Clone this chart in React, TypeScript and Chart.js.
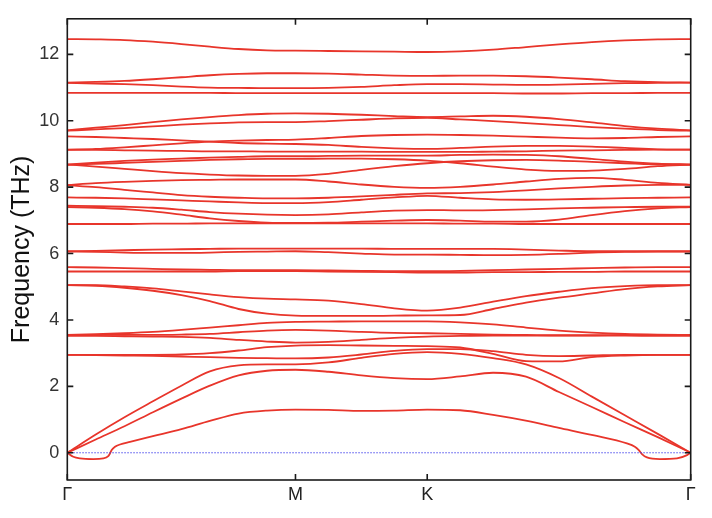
import { useEffect, useRef } from "react";
import { Chart, registerables } from "chart.js";

Chart.register(...registerables);

// k-path coordinate (Γ=0, M=0.866, K=1.366, Γ=2.366)
const kPath = [0, 0.108, 0.217, 0.325, 0.433, 0.541, 0.65, 0.758, 0.866, 0.991, 1.116, 1.241, 1.366, 1.491, 1.616, 1.741, 1.866, 1.991, 2.116, 2.241, 2.366];
const kTickPositions = [0, 0.866, 1.366, 2.366];
const kTickLabels = ["Γ", "M", "K", "Γ"];
const freqTicks = [0, 2, 4, 6, 8, 10, 12];

// optical / upper bands (THz), sampled on kPath
const band12_4 = [12.46, 12.45, 12.43, 12.38, 12.31, 12.23, 12.16, 12.12, 12.11, 12.1, 12.09, 12.08, 12.07, 12.09, 12.14, 12.22, 12.3, 12.37, 12.42, 12.45, 12.46];
const band11_4 = [11.15, 11.17, 11.2, 11.25, 11.31, 11.37, 11.41, 11.43, 11.43, 11.42, 11.39, 11.36, 11.35, 11.36, 11.36, 11.34, 11.3, 11.25, 11.19, 11.16, 11.15];
const band11_0 = [11.14, 11.12, 11.1, 11.07, 11.03, 11.0, 10.99, 10.98, 10.98, 10.99, 11.02, 11.07, 11.1, 11.1, 11.09, 11.08, 11.09, 11.11, 11.13, 11.14, 11.15];
const band10_8 = [10.84, 10.84, 10.84, 10.84, 10.84, 10.84, 10.83, 10.83, 10.83, 10.83, 10.83, 10.83, 10.83, 10.83, 10.83, 10.82, 10.82, 10.83, 10.83, 10.84, 10.84];
const band10_2 = [9.71, 9.79, 9.87, 9.96, 10.04, 10.11, 10.17, 10.21, 10.22, 10.21, 10.18, 10.14, 10.11, 10.13, 10.15, 10.12, 10.05, 9.95, 9.84, 9.76, 9.71];
const band10_0 = [9.7, 9.74, 9.78, 9.83, 9.88, 9.92, 9.95, 9.96, 9.96, 9.99, 10.03, 10.07, 10.09, 10.04, 9.99, 9.93, 9.87, 9.81, 9.76, 9.72, 9.7];
const band9_6 = [9.13, 9.15, 9.2, 9.26, 9.32, 9.37, 9.4, 9.42, 9.43, 9.48, 9.54, 9.57, 9.58, 9.57, 9.55, 9.52, 9.49, 9.47, 9.48, 9.51, 9.53];
const band9_3 = [9.53, 9.51, 9.48, 9.45, 9.41, 9.37, 9.33, 9.31, 9.3, 9.27, 9.21, 9.17, 9.15, 9.18, 9.22, 9.24, 9.24, 9.22, 9.18, 9.14, 9.13];
const band9_1 = [9.12, 9.12, 9.11, 9.1, 9.09, 9.08, 9.08, 9.07, 9.07, 9.07, 9.07, 9.06, 9.06, 9.06, 9.07, 9.08, 9.1, 9.11, 9.12, 9.13, 9.13];
const band8_9 = [8.68, 8.74, 8.79, 8.83, 8.86, 8.89, 8.91, 8.93, 8.93, 8.94, 8.95, 8.95, 8.95, 8.97, 8.98, 8.97, 8.93, 8.85, 8.77, 8.71, 8.68];
const band8_8 = [8.68, 8.7, 8.73, 8.76, 8.79, 8.82, 8.84, 8.85, 8.85, 8.86, 8.86, 8.84, 8.8, 8.72, 8.62, 8.53, 8.49, 8.5, 8.55, 8.63, 8.68];
const band8_4 = [8.68, 8.62, 8.55, 8.48, 8.42, 8.38, 8.35, 8.34, 8.34, 8.4, 8.52, 8.63, 8.72, 8.78, 8.81, 8.82, 8.8, 8.76, 8.72, 8.69, 8.68];
const band8_2 = [8.06, 8.12, 8.16, 8.19, 8.21, 8.22, 8.23, 8.23, 8.23, 8.17, 8.08, 8.01, 7.98, 8.01, 8.08, 8.17, 8.25, 8.28, 8.22, 8.13, 8.07];
const band7_8 = [8.06, 8.0, 7.92, 7.84, 7.76, 7.71, 7.68, 7.66, 7.66, 7.68, 7.72, 7.77, 7.81, 7.82, 7.85, 7.9, 7.96, 8.01, 8.05, 8.07, 8.07];
const band7_6 = [7.69, 7.68, 7.66, 7.63, 7.6, 7.57, 7.54, 7.52, 7.52, 7.55, 7.62, 7.69, 7.74, 7.68, 7.63, 7.62, 7.63, 7.65, 7.67, 7.68, 7.69];
const band7_3 = [7.44, 7.43, 7.41, 7.38, 7.32, 7.25, 7.2, 7.17, 7.16, 7.18, 7.24, 7.29, 7.31, 7.3, 7.31, 7.33, 7.36, 7.38, 7.4, 7.41, 7.41];
const band7_0 = [7.4, 7.38, 7.34, 7.27, 7.17, 7.06, 6.98, 6.93, 6.92, 6.93, 6.96, 6.99, 7.01, 6.99, 6.96, 6.96, 7.02, 7.16, 7.28, 7.36, 7.4];
const band6_9 = [6.89, 6.89, 6.89, 6.9, 6.9, 6.91, 6.91, 6.91, 6.91, 6.91, 6.91, 6.91, 6.91, 6.9, 6.9, 6.89, 6.89, 6.89, 6.89, 6.89, 6.89];
const band6_1 = [6.07, 6.08, 6.1, 6.12, 6.13, 6.14, 6.15, 6.15, 6.15, 6.15, 6.15, 6.14, 6.14, 6.14, 6.14, 6.12, 6.09, 6.07, 6.07, 6.07, 6.07];
const band6_0 = [6.06, 6.05, 6.03, 6.02, 6.02, 6.03, 6.05, 6.06, 6.07, 6.04, 6.0, 5.97, 5.97, 5.96, 5.95, 5.96, 5.99, 6.03, 6.05, 6.06, 6.06];
const band5_6 = [5.59, 5.58, 5.56, 5.54, 5.52, 5.51, 5.5, 5.5, 5.5, 5.49, 5.48, 5.47, 5.47, 5.48, 5.5, 5.52, 5.54, 5.56, 5.58, 5.59, 5.59];
const band5_5 = [5.46, 5.46, 5.46, 5.46, 5.46, 5.46, 5.47, 5.47, 5.47, 5.46, 5.45, 5.44, 5.43, 5.43, 5.44, 5.44, 5.45, 5.45, 5.46, 5.46, 5.46];
const band4_6 = [5.05, 5.05, 5.01, 4.95, 4.86, 4.77, 4.69, 4.64, 4.62, 4.58, 4.48, 4.35, 4.28, 4.37, 4.55, 4.72, 4.85, 4.96, 5.02, 5.05, 5.05];
const band4_1 = [5.05, 5.03, 4.97, 4.88, 4.75, 4.57, 4.33, 4.19, 4.13, 4.12, 4.12, 4.13, 4.14, 4.15, 4.33, 4.52, 4.67, 4.8, 4.93, 5.01, 5.05];
const band3_9 = [3.55, 3.57, 3.6, 3.64, 3.7, 3.77, 3.84, 3.91, 3.94, 3.95, 3.96, 3.96, 3.96, 3.93, 3.87, 3.77, 3.68, 3.62, 3.58, 3.56, 3.55];
const band3_7 = [3.55, 3.55, 3.55, 3.55, 3.56, 3.58, 3.63, 3.68, 3.7, 3.68, 3.64, 3.61, 3.6, 3.58, 3.56, 3.55, 3.54, 3.54, 3.55, 3.55, 3.55];
const band3_4 = [3.52, 3.52, 3.51, 3.5, 3.49, 3.46, 3.4, 3.35, 3.32, 3.34, 3.4, 3.46, 3.5, 3.52, 3.53, 3.53, 3.53, 3.53, 3.53, 3.52, 3.52];
const band3_2 = [2.95, 2.95, 2.95, 2.95, 2.96, 3.0, 3.08, 3.18, 3.23, 3.24, 3.23, 3.22, 3.21, 3.17, 2.98, 2.76, 2.75, 2.88, 2.93, 2.95, 2.95];
const band2_9 = [2.95, 2.94, 2.93, 2.92, 2.9, 2.88, 2.86, 2.85, 2.84, 2.87, 2.96, 3.07, 3.12, 3.12, 3.06, 2.95, 2.91, 2.93, 2.95, 2.95, 2.95];
// acoustic bands
const bandAc3 = [0, 0.55, 1.07, 1.55, 2.02, 2.45, 2.63, 2.66, 2.66, 2.72, 2.86, 2.98, 3.03, 2.98, 2.85, 2.66, 2.25, 1.69, 1.13, 0.57, 0];
const bandAc2 = [0, 0.4, 0.8, 1.22, 1.63, 2.02, 2.33, 2.47, 2.5, 2.44, 2.33, 2.25, 2.22, 2.3, 2.41, 2.29, 1.83, 1.38, 0.92, 0.47, 0];
// lowest acoustic band (own, denser sampling near Γ)
const ac1Path = [0, 0.0228, 0.0482, 0.0987, 0.1366, 0.1556, 0.162, 0.1685, 0.181, 0.2, 0.238, 0.325, 0.433, 0.541, 0.65, 0.758, 0.866, 0.991, 1.116, 1.241, 1.366, 1.491, 1.616, 1.745, 1.866, 1.995, 2.124, 2.154, 2.169, 2.181, 2.2, 2.249, 2.314, 2.352, 2.366];
const ac1Freq = [0, -0.12, -0.17, -0.19, -0.17, -0.1, -0.02, 0.08, 0.18, 0.25, 0.33, 0.5, 0.71, 0.96, 1.18, 1.27, 1.3, 1.29, 1.26, 1.27, 1.3, 1.28, 1.14, 0.96, 0.75, 0.53, 0.28, 0.18, 0.08, -0.04, -0.14, -0.19, -0.17, -0.07, 0];

const gridBands = [
  band12_4, band11_4, band11_0, band10_8, band10_2, band10_0, band9_6, band9_3, band9_1,
  band8_9, band8_8, band8_4, band8_2, band7_8, band7_6, band7_3, band7_0, band6_9,
  band6_1, band6_0, band5_6, band5_5, band4_6, band4_1, band3_9, band3_7, band3_4,
  band3_2, band2_9, bandAc3, bandAc2,
];

const RED = "#e8352b";
const FONT = "'Liberation Sans', Arial, Helvetica, sans-serif";

const framePlugin = {
  id: "frameTicks",
  afterDatasetsDraw(chart: any) {
    const { ctx, chartArea, scales } = chart;
    const { left, right, top, bottom } = chartArea;
    const x = scales.x;
    const y = scales.y;
    ctx.save();
    ctx.strokeStyle = "#1a1a1a";
    ctx.lineWidth = 1.6;
    ctx.strokeRect(left, top, right - left, bottom - top);
    const L = 6;
    ctx.beginPath();
    for (const v of freqTicks) {
      const py = y.getPixelForValue(v);
      ctx.moveTo(left, py);
      ctx.lineTo(left + L, py);
      ctx.moveTo(right, py);
      ctx.lineTo(right - L, py);
    }
    for (const v of kTickPositions) {
      const px = x.getPixelForValue(v);
      ctx.moveTo(px, bottom);
      ctx.lineTo(px, bottom - L);
      ctx.moveTo(px, top);
      ctx.lineTo(px, top + L);
    }
    ctx.stroke();
    ctx.restore();
  },
};

export default function App() {
  const ref = useRef<HTMLCanvasElement | null>(null);

  useEffect(() => {
    if (!ref.current) return;
    const datasets: any[] = [
      {
        data: [
          { x: kTickPositions[0], y: 0 },
          { x: kTickPositions[kTickPositions.length - 1], y: 0 },
        ],
        borderColor: "rgba(60,60,235,0.9)",
        borderWidth: 1,
        borderDash: [1.5, 1.5],
        pointRadius: 0,
        tension: 0,
      },
      ...gridBands.map((b) => ({
        data: b.map((f, i) => ({ x: kPath[i], y: f })),
        borderColor: RED,
        borderWidth: 1.8,
        pointRadius: 0,
        cubicInterpolationMode: "monotone",
      })),
      {
        data: ac1Freq.map((f, i) => ({ x: ac1Path[i], y: f })),
        borderColor: RED,
        borderWidth: 1.8,
        pointRadius: 0,
        cubicInterpolationMode: "monotone",
      },
    ];

    const chart = new Chart(ref.current, {
      type: "line",
      data: { datasets },
      options: {
        animation: false,
        responsive: false,
        events: [],
        layout: { padding: { left: 0, right: 21.3, top: 16, bottom: 0 } },
        plugins: { legend: { display: false }, tooltip: { enabled: false } },
        scales: {
          x: {
            type: "linear",
            min: 0,
            max: 2.366,
            grid: { display: false, drawTicks: false },
            border: { display: false },
            afterBuildTicks: (s: any) => {
              s.ticks = kTickPositions.map((v) => ({ value: v }));
            },
            afterFit: (s: any) => {
              s.height = 38;
            },
            ticks: {
              autoSkip: false,
              maxRotation: 0,
              padding: 4,
              color: "#222",
              font: { family: FONT, size: 18 },
              callback: (_v: any, i: number) => kTickLabels[i],
            },
          },
          y: {
            type: "linear",
            min: -0.82,
            max: 13.07,
            grid: { display: false, drawTicks: false },
            border: { display: false },
            afterBuildTicks: (s: any) => {
              s.ticks = freqTicks.map((v) => ({ value: v }));
            },
            afterFit: (s: any) => {
              s.width = 67.3;
            },
            ticks: {
              padding: 8,
              color: "#333",
              font: { family: FONT, size: 18 },
              callback: (v: any) => String(v),
            },
            title: {
              display: true,
              text: "Frequency (THz)",
              color: "#111",
              font: { family: FONT, size: 25 },
              padding: { top: 7, bottom: 0 },
            },
          },
        },
      } as any,
      plugins: [framePlugin],
    });
    return () => chart.destroy();
  }, []);

  return (
    <div style={{ position: "fixed", left: 0, top: 0, width: 712, height: 518, background: "#fff" }}>
      <canvas ref={ref} width={712} height={518} style={{ width: 712, height: 518, display: "block" }} />
    </div>
  );
}
